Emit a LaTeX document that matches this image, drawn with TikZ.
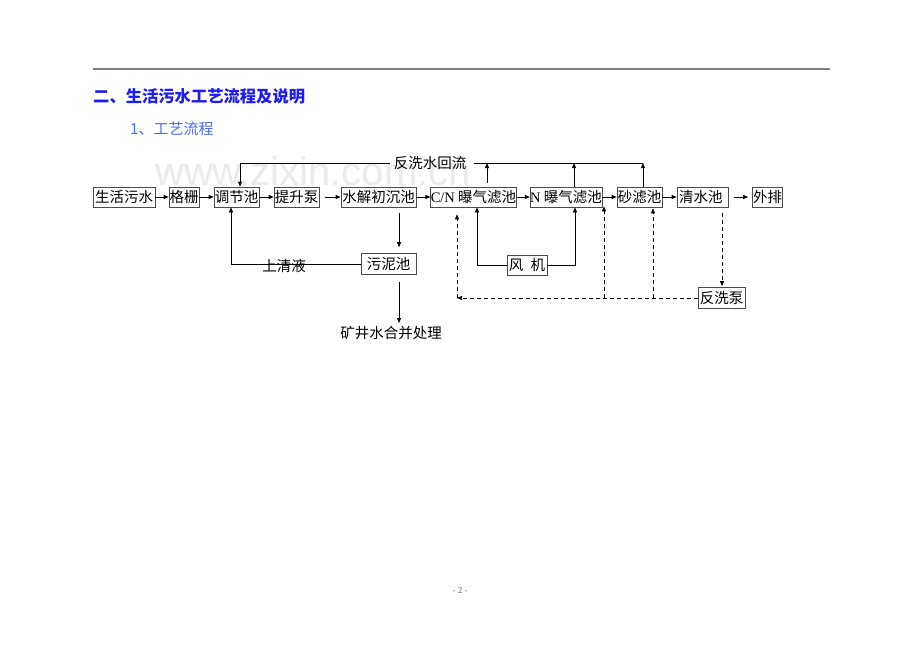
\documentclass[tikz,border=0pt]{standalone}
\usepackage{fontspec}
\setmainfont{Liberation Serif}
\newfontfamily\cjk{Noto Sans CJK SC}
\newfontfamily\wmfont{Liberation Sans}
\usetikzlibrary{arrows.meta}
\definecolor{headblue}{HTML}{1C1CF0}
\definecolor{subblue}{HTML}{4A6AF5}
\begin{document}
\begin{tikzpicture}[x=1pt,y=-1pt,
  box/.style={draw=black!70, line width=0.7pt, inner sep=0pt, minimum height=20,
    font=\cjk\fontsize{14.5}{15}\selectfont},
  lbl/.style={inner sep=0pt, font=\cjk\fontsize{14.5}{15}\selectfont},
  ar/.style={-{Triangle[length=5pt,width=4pt]}, line width=0.7pt},
  dl/.style={dash pattern=on 4pt off 3pt, line width=0.8pt}]
\fill[white] (0,0) rectangle (920,651);
\useasboundingbox (0,0) rectangle (920,651);
% watermark
\node[anchor=base, inner sep=0pt, text=black!8, font=\wmfont\fontsize{40}{40}\selectfont] (wm) at (313,185) {www.zixin.com.cn};
% header rule
\draw[black!50, line width=2pt] (93,69) -- (830,69);
\node[anchor=west, inner sep=0pt, text=headblue, font=\cjk\bfseries\fontsize{16.3}{17}\selectfont] (h1) at (93,96) {二、生活污水工艺流程及说明};
\node[anchor=west, inner sep=0pt, text=subblue, font=\cjk\fontsize{15}{16}\selectfont] (h2) at (130,129) {1、工艺流程};
% main row
\node[box, minimum width=62] (n1) at (124,197) {生活污水};
\node[box, minimum width=30] (n2) at (184,197) {格栅};
\node[box, minimum width=45] (n3) at (236.5,197) {调节池};
\node[box, minimum width=45] (n4) at (296.5,197) {提升泵};
\node[box, minimum width=75] (n5) at (378.5,197) {水解初沉池};
\node[box, minimum width=85] (n6) at (473.5,197) {{\rmfamily C/N} 曝气滤池};
\node[box, minimum width=70] (n7) at (566,197) {{\rmfamily N} 曝气滤池};
\node[box, minimum width=45] (n8) at (639.5,197) {砂滤池};
\node[box, minimum width=51, text width=51, align=left] (n9) at (702.5,197) {\hspace*{2pt}清水池};
\node[box, minimum width=30] (n10) at (767.5,197) {外排};
% secondary boxes
\node[box, minimum width=55, minimum height=21] (sl) at (388.5,264) {污泥池};
\node[box, minimum width=40] (fj) at (527,265) {风\hspace{0.5em}机};
\node[box, minimum width=47, minimum height=21] (fx) at (721.5,298) {反洗泵};
% labels
\node[lbl] (fb) at (430,163) {反洗水回流};
\node[lbl] (km) at (391,333) {矿井水合并处理};
% main flow arrows
\draw[ar] (n1.east) -- (n2.west);
\draw[ar] (n2.east) -- (n3.west);
\draw[ar] (n3.east) -- (n4.west);
\draw[ar, shorten <=6pt] (n4.east) -- (n5.west);
\draw[ar] (n5.east) -- (n6.west);
\draw[ar] (n6.east) -- (n7.west);
\draw[ar] (n7.east) -- (n8.west);
\draw[ar] (n8.east) -- (n9.west);
\draw[ar, shorten <=6pt, shorten >=4pt] (n9.east) -- (n10.west);
% backwash return (top)
\coordinate (t3) at (240,163);
\coordinate (t6) at (487,163);
\coordinate (t7) at (574,163);
\coordinate (t8) at (643,163);
\draw[line width=0.7pt, shorten <=4pt] (fb.west) -- (t3);
\draw[ar] (t3) -- (n3.north -| t3);
\draw[line width=0.7pt, shorten <=8pt] (fb.east) -- (t8);
\draw[ar, shorten <=4pt] (n6.north -| t6) -- (t6);
\draw[ar] (n7.north -| t7) -- (t7);
\draw[ar] (n8.north -| t8) -- (t8);
% sludge
\coordinate (s1) at (399,213);
\draw[ar, shorten <=6pt, shorten >=6pt] (n5.south -| s1) -- (sl.north -| s1);
\coordinate (s2) at (399,282);
\draw[ar, shorten <=7pt, shorten >=3pt] (sl.south -| s2) -- (km.north -| s2);
% supernatant
\coordinate (q) at (231,264);
\draw[ar] (sl.west) -- (q) -- (n3.south -| q);
\node[lbl] (qt) at (284,266) {上清液};
% blower
\coordinate (f1) at (477,265);
\coordinate (f2) at (575,265);
\draw[ar] (fj.west) -- (f1) -- (n6.south -| f1);
\draw[ar] (fj.east) -- (f2) -- (n7.south -| f2);
% dashed backwash
\coordinate (d9) at (722,213);
\draw[dl, ar, shorten <=6pt, shorten >=1pt] (n9.south -| d9) -- (fx.north -| d9);
\coordinate (dl) at (457,298);
\coordinate (d7) at (604,298);
\coordinate (d8) at (653,298);
\draw[dl, ar] (fx.west) -- (dl);
\draw[dl, ar, shorten >=7pt] (dl) -- (n6.south -| dl);
\draw[dl, ar] (d7) -- ([yshift=1pt]n8.south -| d7);
\draw[dl, ar, shorten >=1pt] (d8) -- (n8.south -| d8);
% page number
\node[inner sep=0pt, text=black!60, font=\fontsize{9}{10}\selectfont] (pg) at (460,591) {- 2 -};
\end{tikzpicture}
\end{document}
